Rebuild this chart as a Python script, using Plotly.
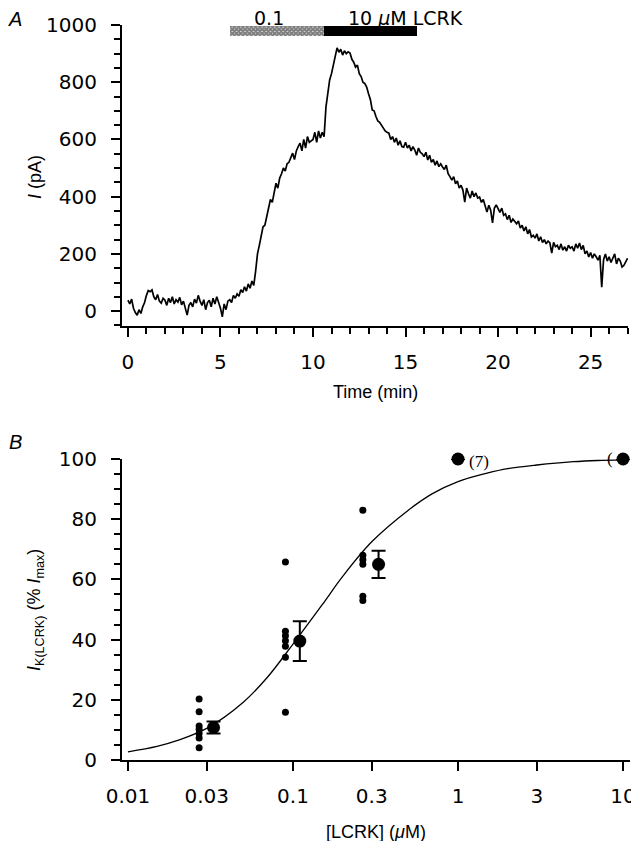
import numpy as np
import plotly.graph_objects as go

# page body has an 8 px margin, so the figure is drawn 8 px in from the top-left
OFF = 8
W, H = 639 - OFF, 849 - 2 * OFF

# ---------------- Panel A data ----------------
time_step = 0.1
trace_current = [
    38, 25, 42, 10, -5, -14, 5, -8, 15, 30,
    55, 72, 68, 74, 50, 40, 58, 35, 28, 45,
    38, 20, 45, 30, 50, 25, 40, 32, 48, 22,
    35, 10, -14, 20, 30, 15, 42, 28, 55, 35,
    20, 40, 5, 30, 38, 15, 45, 25, 50, 30,
    10, -20, 25, 5, 35, 40, 30, 55, 45, 60,
    52, 75, 65, 85, 70, 95, 80, 105, 90, 140,
    200, 230, 265, 295, 300, 330, 355, 390, 380, 410,
    447, 430, 465, 480, 500, 490, 515, 520, 540, 552,
    530, 560, 575, 587, 560, 600, 570, 610, 590, 595,
    600, 625, 590, 630, 605, 625, 610, 713, 770, 808,
    830, 860, 880, 920, 905, 915, 895, 910, 900, 906,
    902, 880, 870, 853, 860, 830, 820, 800, 795, 783,
    760, 740, 703, 700, 680, 665, 660, 650, 640, 630,
    625, 622, 600, 610, 590, 605, 580, 595, 575, 573,
    590, 570, 580, 560, 575, 563, 545, 570, 555, 550,
    540, 555, 528, 545, 520, 530, 510, 525, 505, 515,
    504, 495, 510, 480, 470, 458, 470, 445, 455, 430,
    440, 423, 381, 430, 410, 395, 420, 400, 413, 395,
    399, 380, 390, 365, 346, 370, 353, 308, 360, 371,
    355, 345, 360, 335, 340, 320, 335, 310, 322, 311,
    305, 315, 290, 300, 280, 295, 270, 285, 259, 265,
    255, 270, 245, 260, 240, 250, 235, 245, 238, 203,
    240, 225, 230, 215, 235, 213, 225, 210, 230, 220,
    225, 210, 235, 220, 238, 215, 230, 200, 210, 189,
    205, 185, 200, 190, 178, 195, 84, 180, 200, 175,
    190, 170, 189, 200, 165, 185, 175, 154, 160, 175,
    185,
]
trace_time = [round(i * time_step, 2) for i in range(len(trace_current))]

drug_labels = ["0.1", "10 <i>μ</i>M LCRK"]
drug_start = [5.5, 10.6]
drug_end = [10.6, 15.6]
drug_label_x = [7.6, 15.0]

# ---------------- Panel B data ----------------
single_x = [0.027] * 7 + [0.09] * 7 + [0.265] * 6
single_y = [20.3, 16.0, 11.3, 10.2, 8.8, 7.3, 4.1,
            65.8, 42.8, 41.3, 39.6, 37.8, 34.1, 15.9,
            83.0, 68.0, 66.5, 65.0, 54.4, 53.0]

mean_x = [0.033, 0.11, 0.33, 1.0, 10.0]
mean_y = [10.8, 39.5, 65.0, 100.0, 100.0]
mean_err = [2.0, 6.6, 4.5, 0.0, 0.0]

curve_x = [0.01, 0.015, 0.02, 0.03, 0.05, 0.07, 0.1, 0.15, 0.2, 0.3,
           0.5, 0.7, 1.0, 1.5, 2.0, 3.0, 5.0, 7.0, 10.0]
curve_y = [2.7, 4.5, 6.5, 10.5, 19.2, 27.5, 38.5, 51.5, 61.0, 72.5,
           83.0, 88.5, 92.5, 95.3, 96.8, 98.0, 99.1, 99.5, 99.7]

b_tickvals = [0.01, 0.03, 0.1, 0.3, 1, 3, 10]
b_ticktext = ["0.01", "0.03", "0.1", "0.3", "1", "3", "10"]


def px_x(p):
    return (p - OFF) / W


def px_y(p):
    return 1 - (p - OFF) / H


TICKFONT = dict(family="DejaVu Sans", size=20, color="black")
LABFONT = dict(family="Liberation Sans", size=18, color="black")

fig = go.Figure()

# Panel A trace
fig.add_trace(go.Scatter(x=trace_time, y=trace_current, mode="lines",
                         line=dict(color="black", width=1.7),
                         xaxis="x", yaxis="y", showlegend=False))

# drug application bars
for i in range(len(drug_start)):
    if i == 0:
        marker = dict(color="white",
                      pattern=dict(shape="x", fgcolor="black", bgcolor="white",
                                   size=3, solidity=0.9),
                      line=dict(width=0))
    else:
        marker = dict(color="black", line=dict(width=0))
    fig.add_trace(go.Bar(x=[drug_end[i] - drug_start[i]], base=[drug_start[i]],
                         y=[980], width=36, orientation="h", marker=marker,
                         xaxis="x", yaxis="y", showlegend=False))

# Panel B
fig.add_trace(go.Scatter(x=curve_x, y=curve_y, mode="lines", line_shape="spline",
                         line=dict(color="black", width=1.3),
                         xaxis="x2", yaxis="y2", showlegend=False))
fig.add_trace(go.Scatter(x=single_x, y=single_y, mode="markers",
                         marker=dict(color="black", size=7),
                         xaxis="x2", yaxis="y2", showlegend=False, cliponaxis=False))
fig.add_trace(go.Scatter(x=mean_x, y=mean_y, mode="markers",
                         marker=dict(color="black", size=13),
                         error_y=dict(type="data", array=mean_err, color="black",
                                      thickness=2, width=7),
                         xaxis="x2", yaxis="y2", showlegend=False, cliponaxis=False))

axis_common = dict(showline=True, linecolor="black", linewidth=2, showgrid=False,
                   zeroline=False, ticks="outside", tickcolor="black", tickwidth=2,
                   tickfont=TICKFONT, fixedrange=True, automargin=False)

fig.update_layout(
    width=W, height=H, autosize=False,
    margin=dict(l=0, r=0, t=0, b=0, pad=0),
    paper_bgcolor="white", plot_bgcolor="white",
    barmode="overlay", bargap=0,
    xaxis=dict(domain=[px_x(122), px_x(628)], range=[-0.32, 27.02],
               tick0=0, dtick=5, ticklen=9, ticklabelstandoff=8,
               minor=dict(ticks="outside", dtick=1, ticklen=6, tickwidth=2,
                          tickcolor="black"),
               anchor="y", **axis_common),
    yaxis=dict(domain=[px_y(326), px_y(25)], range=[-52, 1000],
               tick0=0, dtick=200, ticklen=9, ticklabelstandoff=10,
               minor=dict(ticks="outside", dtick=50, ticklen=6, tickwidth=2,
                          tickcolor="black"),
               anchor="x", **axis_common),
    xaxis2=dict(domain=[px_x(122), px_x(630)], type="log",
                range=[-2.036, 1.042], tickvals=b_tickvals, ticktext=b_ticktext,
                ticklen=9, ticklabelstandoff=8, anchor="y2", **axis_common),
    yaxis2=dict(domain=[px_y(760), px_y(459)], range=[0, 100],
                tick0=0, dtick=20, ticklen=9, ticklabelstandoff=10,
                minor=dict(ticks="outside", dtick=5, ticklen=6, tickwidth=2,
                           tickcolor="black"),
                anchor="x2", **axis_common),
)


def pann(text, x, y, font, angle=0):
    return dict(text=text, x=px_x(x), y=px_y(y), xref="paper", yref="paper",
                xanchor="center", yanchor="middle", textangle=angle,
                showarrow=False, font=font)


ann = []
PANFONT = dict(family="Liberation Sans", size=20, color="black")
ann.append(pann("<i>A</i>", 15, 19, PANFONT))
ann.append(pann("<i>B</i>", 15, 442, PANFONT))
ann.append(pann("<i>I</i> (pA)", 35, 177, LABFONT, -90))
ann.append(pann("<i>I</i><sub>K(LCRK)</sub> (% <i>I</i><sub>max</sub>)", 35, 610, LABFONT, -90))
ann.append(pann("Time (min)", 375, 392, LABFONT))
ann.append(pann("[LCRK] (<i>μ</i>M)", 376, 832, LABFONT))
for lab, lx in zip(drug_labels, drug_label_x):
    ann.append(dict(text=lab, x=lx, y=px_y(18), xref="x", yref="paper",
                    xanchor="center", yanchor="middle", showarrow=False,
                    font=dict(family="DejaVu Sans", size=19, color="black")))
SERIF = dict(family="Liberation Serif", size=17, color="black")
ann.append(dict(text="(7)", x=np.log10(mean_x[3]), y=mean_y[3], xref="x2", yref="y2",
                xanchor="center", yanchor="middle",
                xshift=21, yshift=-3, showarrow=False, font=SERIF))
ann.append(dict(text="(\u2003\u2009)", x=np.log10(mean_x[4]), y=mean_y[4],
                xref="x2", yref="y2", xanchor="center", yanchor="middle",
                showarrow=False, font=SERIF))
fig.update_layout(annotations=ann)

fig.write_html("out.html")
